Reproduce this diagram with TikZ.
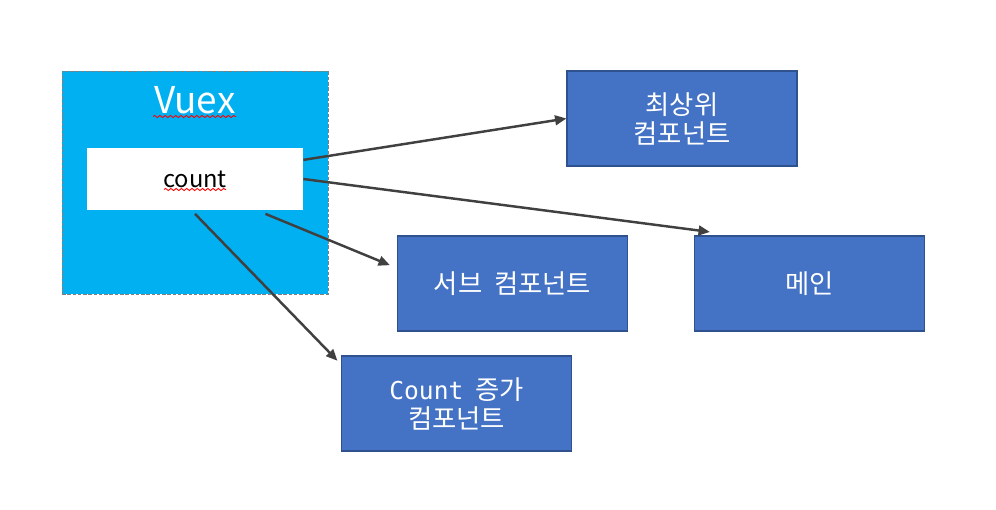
\documentclass[tikz,border=0pt]{standalone}
\usepackage{fontspec}
\newfontfamily\kr{Noto Sans CJK KR}
\newfontfamily\krmono{DejaVu Sans Mono}
\usetikzlibrary{arrows.meta,decorations.pathmorphing}

\definecolor{vuexcolor}{RGB}{0,176,240}
\definecolor{compcolor}{RGB}{68,114,196}
\definecolor{compborder}{RGB}{47,82,143}
\definecolor{linkcolor}{RGB}{64,64,64}

\tikzset{
  compbox/.style={rectangle, draw=compborder, fill=compcolor, line width=0.6pt,
    minimum width=4.6cm, minimum height=1.9cm, inner sep=0pt, align=center,
    text=white, font=\kr\fontsize{15}{16.5}\selectfont},
  link/.style={draw=linkcolor, line width=1.4pt, -{Triangle[length=6.5pt,width=5.5pt]}},
  squiggle/.style={red, line width=0.5pt, decorate,
    decoration={snake, amplitude=0.6pt, segment length=3pt}}
}

\begin{document}
\begin{tikzpicture}
  \useasboundingbox (0,0) rectangle (19.92,10.18);

  % Vuex store box
  \node[rectangle, fill=vuexcolor, draw=gray, dash pattern=on 2pt off 1pt, line width=0.5pt,
    minimum width=5.32cm, minimum height=4.46cm, inner sep=0pt] (vuex) at (3.9,6.53) {};
  \node[text=white, font=\kr\fontsize{21}{24}\selectfont] (vuextitle) at (3.9,8.18) {Vuex};
  \node[rectangle, fill=white, minimum width=4.32cm, minimum height=1.24cm, inner sep=0pt,
    font=\kr\fontsize{13.5}{16}\selectfont] (count) at (3.9,6.6) {count};
  \draw[squiggle] (3.06,7.85) -- (4.72,7.85);
  \draw[squiggle] (3.28,6.39) -- (4.52,6.39);

  % Components
  \node[compbox] (top) at (13.64,7.81) {최상위\\컴포넌트};
  \node[compbox] (sub) at (10.25,4.51) {서브\ \ 컴포넌트};
  \node[compbox] (main) at (16.19,4.51) {메인};
  \node[compbox] (inc) at (9.13,2.11) {{\krmono\fontsize{14}{16.5}\selectfont Count}\ \ 증가\\컴포넌트};

  % Connectors
  \draw[link] (count.10) -- (top.west);
  \draw[link] (count.east) -- ([xshift=-3pt,yshift=2pt]main.153);
  \draw[link] ([yshift=-2pt]count.-24) -- ([xshift=-4pt]sub.171);
  \draw[link] ([yshift=-2pt]count.south) -- ([shift={(-2pt,-3pt)}]inc.north west);
\end{tikzpicture}
\end{document}
